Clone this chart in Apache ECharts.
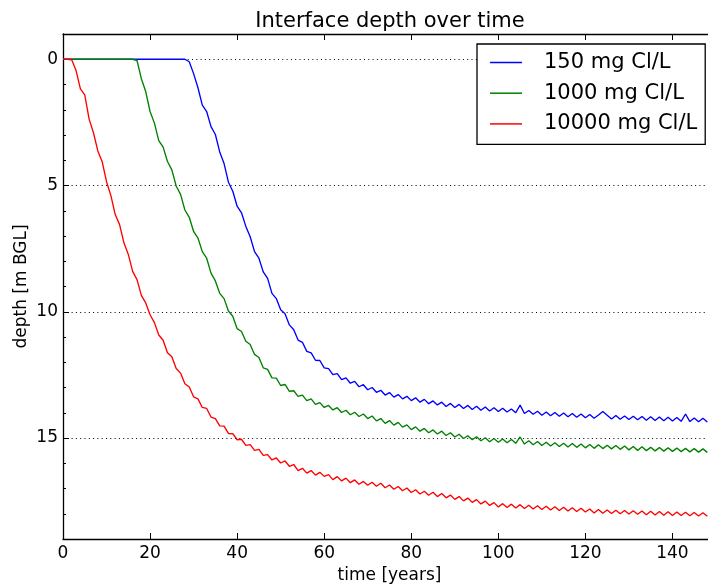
<!DOCTYPE html>
<html><head><meta charset="utf-8">
<script src="https://cdn.jsdelivr.net/npm/echarts@6/dist/echarts.min.js"></script>
<style>html,body{margin:0;padding:0;background:#fff}#c{width:708px;height:588px}</style>
</head><body><div id="c"></div>
<script>
const seriesNames = ['150 mg Cl/L', '1000 mg Cl/L', '10000 mg Cl/L'];
const seriesColors = ['#0000ff', '#008000', '#ff0000'];
const startYear = 0;
const yearStep = 1;
const depth150 = [
  0,0,0,0,0,0,0,0,0,0, 0,0,0,0,0,0,0,0,0,0, 0,0,0,0,0,0,0,0,0,0.1,
  0.57,1.13,1.82,2.07,2.67,2.98,3.67,4.13,4.87,5.23,
  5.82,6.08,6.62,7.03,7.62,7.88,8.42,8.68,9.27,9.48,
  9.92,10.08,10.52,10.71,11.12,11.21,11.57,11.63,11.92,11.93,
  12.22,12.25,12.49,12.45,12.69,12.62,12.83,12.76,12.97,12.89,
  13.09,13.0,13.19,13.11,13.3,13.2,13.38,13.28,13.45,13.35,
  13.52,13.41,13.58,13.47,13.64,13.53,13.69,13.58,13.75,13.63,
  13.79,13.67,13.83,13.71,13.87,13.74,13.9,13.77,13.93,13.8,
  13.95,13.82,13.97,13.85,14.0,13.7,14.03,13.91,14.06,13.94,
  14.1,13.97,14.12,13.99,14.14,14.01,14.16,14.03,14.18,14.05,
  14.2,14.07,14.22,14.09,13.95,14.1,14.25,14.11,14.26,14.13,
  14.27,14.14,14.28,14.15,14.3,14.16,14.31,14.17,14.32,14.18,
  14.33,14.19,14.34,14.05,14.35,14.21,14.36,14.22,14.37
];
const depth1000 = [
  0,0,0,0,0,0,0,0,0,0, 0,0,0,0,0,0,0,0.05,0.77,1.28,
  2.07,2.53,3.22,3.48,4.05,4.38,5.02,5.35,5.97,6.26,
  6.82,7.08,7.62,7.88,8.47,8.78,9.27,9.48,9.97,10.18,
  10.67,10.78,11.17,11.3,11.69,11.81,12.22,12.28,12.62,12.63,
  12.92,12.88,13.15,13.13,13.35,13.3,13.52,13.45,13.67,13.6,
  13.79,13.71,13.89,13.8,13.99,13.9,14.08,13.98,14.15,14.05,
  14.23,14.13,14.32,14.23,14.42,14.31,14.49,14.38,14.57,14.48,
  14.67,14.56,14.73,14.62,14.79,14.68,14.84,14.73,14.9,14.79,
  14.96,14.85,15.02,14.91,15.07,14.95,15.11,14.99,15.15,15.02,
  15.17,15.04,15.19,15.06,15.21,14.96,15.24,15.11,15.27,15.14,
  15.3,15.17,15.32,15.19,15.34,15.21,15.36,15.22,15.37,15.24,
  15.39,15.26,15.41,15.27,15.42,15.29,15.43,15.3,15.45,15.32,
  15.47,15.34,15.49,15.35,15.5,15.37,15.51,15.38,15.52,15.39,
  15.53,15.4,15.54,15.41,15.55,15.42,15.56,15.43,15.57
];
const depth10000 = [
  0,0,0.02,0.45,1.17,1.41,2.37,2.91,3.63,4.06,
  4.85,5.4,6.15,6.55,7.27,7.73,8.4,8.73,9.35,9.65,
  10.12,10.43,10.92,11.13,11.62,11.78,12.25,12.43,12.85,12.98,
  13.37,13.45,13.79,13.83,14.17,14.23,14.52,14.53,14.82,14.83,
  15.07,15.05,15.29,15.26,15.49,15.45,15.69,15.66,15.87,15.79,
  15.99,15.91,16.12,16.05,16.29,16.2,16.39,16.29,16.47,16.36,
  16.52,16.45,16.65,16.53,16.7,16.59,16.77,16.66,16.83,16.72,
  16.87,16.75,16.91,16.79,16.97,16.86,17.03,16.92,17.09,16.98,
  17.16,17.05,17.22,17.11,17.27,17.15,17.32,17.2,17.37,17.26,
  17.43,17.32,17.49,17.38,17.55,17.44,17.61,17.5,17.67,17.56,
  17.73,17.6,17.75,17.62,17.77,17.64,17.79,17.66,17.81,17.68,
  17.83,17.7,17.85,17.72,17.87,17.74,17.89,17.76,17.91,17.78,
  17.93,17.81,17.97,17.83,17.98,17.85,17.99,17.86,18.0,17.87,
  18.01,17.88,18.02,17.89,18.04,17.9,18.05,17.91,18.06,17.92,
  18.07,17.93,18.07,17.94,18.08,17.95,18.09,17.96,18.1
];
const yMajorTicks = [0, 5, 10, 15];

const FONT = 'DejaVu Sans';
const allDepths = [depth150, depth1000, depth10000];
const toPairs = arr => arr.map((v, i) => [startYear + i * yearStep, v]);

const axisLineStyle = { color: '#000', width: 1.3 };
const series = allDepths.map((arr, k) => ({
  name: seriesNames[k],
  type: 'line',
  data: toPairs(arr),
  showSymbol: false,
  symbol: 'none',
  lineStyle: { color: seriesColors[k], width: 1.35 },
  itemStyle: { color: seriesColors[k] },
  z: 3
}));
series[0].markLine = {
  silent: true,
  symbol: 'none',
  label: { show: false },
  lineStyle: { color: '#000', width: 1, type: [1, 3.3] },
  data: yMajorTicks.map(v => ({ yAxis: v })),
  z: 1
};

const chart = echarts.init(document.getElementById('c'), null, { renderer: 'canvas' });
chart.setOption({
  animation: false,
  backgroundColor: '#fff',
  title: {
    text: 'Interface depth over time',
    left: 385, top: 6, textAlign: 'center',
    textStyle: { fontFamily: FONT, fontSize: 21, fontWeight: 'normal', color: '#000' }
  },
  grid: { left: 63, right: -8, top: 34, bottom: 49, outerBoundsMode: 'none', containLabel: false },
  legend: {
    orient: 'vertical', left: 477, top: 44,
    padding: [8, 8, 10, 13], itemGap: 9.7, itemWidth: 32, itemHeight: 1.5,
    icon: 'rect',
    borderColor: '#000', borderWidth: 1.3, backgroundColor: '#fff',
    textStyle: { fontFamily: FONT, fontSize: 21, color: '#000', lineHeight: 20, padding: [0, 0, 0, 17] },
    data: seriesNames
  },
  xAxis: [{
    type: 'value', min: 0, max: 150, interval: 20, position: 'bottom',
    axisLine: { show: true, onZero: false, lineStyle: axisLineStyle },
    axisTick: { show: true, inside: true, length: 6, lineStyle: { color: '#000', width: 1 } },
    axisLabel: { fontFamily: FONT, fontSize: 17, color: '#000', margin: 6, showMaxLabel: false },
    splitLine: { show: false },
    name: 'time [years]', nameLocation: 'middle', nameGap: 24,
    nameTextStyle: { fontFamily: FONT, fontSize: 17, color: '#000' }
  }, {
    type: 'value', min: 0, max: 150, interval: 20, position: 'top',
    axisLine: { show: true, onZero: false, lineStyle: axisLineStyle },
    axisTick: { show: true, inside: true, length: 6, lineStyle: { color: '#000', width: 1 } },
    axisLabel: { show: false },
    splitLine: { show: false }
  }],
  yAxis: [{
    type: 'value', inverse: true, min: -1, max: 19, interval: 1, position: 'left',
    axisLine: { show: true, onZero: false, lineStyle: axisLineStyle },
    axisTick: { show: true, inside: true, length: 3, lineStyle: { color: '#000', width: 1 } },
    axisLabel: { show: false },
    splitLine: { show: false },
    name: 'depth [m BGL]', nameLocation: 'middle', nameGap: 33, nameRotate: 90,
    nameTextStyle: { fontFamily: FONT, fontSize: 17, color: '#000' }
  }, {
    type: 'value', inverse: true, min: -1, max: 19, position: 'left', offset: 0,
    axisLine: { show: false, onZero: false },
    axisTick: { show: true, inside: true, length: 6, customValues: yMajorTicks, lineStyle: { color: '#000', width: 1 } },
    axisLabel: { fontFamily: FONT, fontSize: 17, color: '#000', margin: 5, customValues: yMajorTicks },
    splitLine: { show: false }
  }],
  series: series
});
</script></body></html>
